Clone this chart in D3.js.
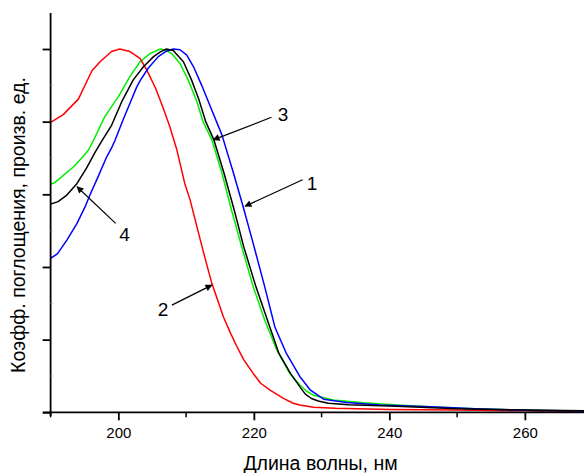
<!DOCTYPE html>
<html>
<head>
<meta charset="utf-8">
<script src="https://cdn.jsdelivr.net/npm/d3@7"></script>
<style>
  html, body { margin: 0; padding: 0; background: #fff; }
  svg { display: block; font-family: "Liberation Sans", Arial, sans-serif; }
</style>
</head>
<body>
<svg id="chart" width="584" height="473"></svg>
<script>
// wavelength (nm) / relative absorbance
const curve1 = [[190,0.424],[191,0.436],[192.4,0.474],[193.9,0.52],[195.1,0.566],[195.8,0.598],[197,0.648],[198.3,0.704],[199,0.728],[199.5,0.748],[200.7,0.805],[201.7,0.85],[202.7,0.895],[203.2,0.912],[204.4,0.947],[205.9,0.979],[207.1,0.994],[208.1,1.0],[209.1,0.998],[210.1,0.983],[211.1,0.951],[212.3,0.9],[213.5,0.845],[215.3,0.763],[217,0.658],[218.4,0.567],[219.9,0.465],[221.6,0.346],[223.1,0.235],[224.8,0.162],[226.8,0.098],[228.3,0.062],[230.3,0.036],[233.7,0.027],[238.6,0.02],[246,0.015],[253.4,0.009],[262,0.005],[272,0.003]];
const curve2 = [[190,0.80],[190.2,0.80],[191.9,0.82],[194.1,0.862],[196.1,0.94],[197.3,0.965],[199,0.993],[200.2,1.0],[201.7,0.993],[203.2,0.974],[204.2,0.942],[205.5,0.892],[206.6,0.838],[207.6,0.786],[208.6,0.725],[209.8,0.63],[210.6,0.584],[212.1,0.474],[213,0.41],[213.8,0.355],[215.5,0.263],[216.5,0.22],[217.5,0.181],[218.5,0.145],[219.9,0.107],[221,0.08],[222.4,0.061],[224.3,0.039],[225.8,0.025],[226.8,0.02],[228.8,0.014],[232,0.011],[240,0.008],[250,0.006],[260,0.004],[272,0.002]];
const curve3 = [[190,0.628],[190.6,0.632],[193.4,0.676],[194.8,0.704],[195.6,0.722],[196.1,0.74],[198,0.814],[200,0.869],[201.7,0.924],[203.2,0.965],[204.7,0.988],[206.2,1.0],[207.1,0.996],[208,0.985],[209.1,0.96],[210.3,0.915],[211.6,0.855],[212.5,0.8],[213.8,0.75],[215.3,0.658],[216.7,0.557],[218.2,0.456],[219.9,0.346],[221.6,0.254],[223.4,0.171],[225.3,0.107],[226.8,0.075],[227.8,0.058],[228.8,0.047],[231.7,0.034],[236.2,0.026],[241.1,0.02],[246,0.015],[253.4,0.009],[262,0.005],[272,0.003]];
const curve4 = [[190,0.573],[191.1,0.58],[192.4,0.598],[193.9,0.63],[195.3,0.672],[196.6,0.717],[197.5,0.745],[199,0.79],[200.5,0.855],[202.2,0.915],[203.7,0.951],[205.2,0.979],[206.2,0.992],[207.1,1.0],[208.1,0.996],[209.6,0.965],[210.8,0.915],[211.9,0.86],[212.9,0.8],[214.1,0.75],[215.6,0.658],[217.1,0.557],[218.5,0.456],[220.3,0.346],[222,0.254],[223.7,0.162],[225.4,0.107],[226.8,0.07],[227.6,0.05],[228.5,0.038],[229.5,0.031],[231,0.025],[234,0.021],[240,0.017],[250,0.01],[260,0.006],[272,0.004]];

const series = [
  { name: "1", color: "#0000ff", values: curve1 },
  { name: "2", color: "#ff0000", values: curve2 },
  { name: "3", color: "#00ee00", values: curve3 },
  { name: "4", color: "#000000", values: curve4 }
];
// draw order: green, red, blue, black on top
const drawOrder = ["3", "2", "1", "4"];

const xTicks = [200, 220, 240, 260];
const xMinor = [190, 210, 230, 250, 270];
const yTicks = [0, 0.2, 0.4, 0.6, 0.8, 1.0];
const yMinor = [0.1, 0.3, 0.5, 0.7, 0.9];

// label text, label position and arrow tip, in data units
const callouts = [
  { text: "1", at: [228.6, 0.63], from: [227.2, 0.64], tip: [218.7, 0.567] },
  { text: "2", at: [206.6, 0.285], from: [207.9, 0.295], tip: [213.8, 0.35] },
  { text: "3", at: [224.3, 0.82], from: [222.6, 0.812], tip: [214.0, 0.75] },
  { text: "4", at: [200.9, 0.49], from: [199.6, 0.52], tip: [193.9, 0.621] }
];

const svg = d3.select("#chart");
const W = 584, H = 473;

const x = d3.scaleLinear().domain([190, 270]).range([50.6, 592.6]);
const y = d3.scaleLinear().domain([0, 1.1]).range([412.3, 412.3 - 1.1 * 363.3]);

svg.append("defs").append("marker")
    .attr("id", "arrow")
    .attr("viewBox", "0 0 10 10")
    .attr("refX", 9).attr("refY", 5)
    .attr("markerWidth", 9).attr("markerHeight", 7)
    .attr("markerUnits", "userSpaceOnUse")
    .attr("orient", "auto")
  .append("path")
    .attr("d", "M0,0 L10,5 L0,10 z")
    .attr("fill", "#000");

svg.append("clipPath").attr("id", "plot")
  .append("rect").attr("x", 51).attr("y", 0).attr("width", W - 51).attr("height", 413);

const line = d3.line()
    .x(d => x(d[0]))
    .y(d => y(d[1]));

const lines = svg.append("g").attr("clip-path", "url(#plot)");
drawOrder.forEach(n => {
  const s = series.find(d => d.name === n);
  lines.append("path")
      .datum(s.values)
      .attr("fill", "none")
      .attr("stroke", s.color)
      .attr("stroke-width", 1.5)
      .attr("stroke-linejoin", "round")
      .attr("d", line);
});

// x axis
const xAxis = svg.append("g").attr("transform", `translate(0,${y(0)})`);
xAxis.call(d3.axisBottom(x).tickValues(xTicks).tickSize(8).tickSizeOuter(0).tickPadding(7).tickFormat(d3.format("d")));
xAxis.append("g").selectAll("line").data(xMinor).enter().append("line")
    .attr("x1", d => x(d)).attr("x2", d => x(d))
    .attr("y1", 0).attr("y2", 5)
    .attr("stroke", "#000").attr("stroke-width", 1.5);
xAxis.select(".domain").attr("d", `M43,0H${W}`);

// y axis
const yAxis = svg.append("g").attr("transform", `translate(${x(190)},0)`);
yAxis.call(d3.axisLeft(y).tickValues(yTicks).tickSize(8).tickSizeOuter(0).tickFormat(""));
yAxis.select(".domain").attr("d", `M0,13V416`);
yAxis.append("g").selectAll("line").data(yMinor).enter().append("line")
    .attr("x1", 0).attr("x2", 2)
    .attr("y1", d => y(d)).attr("y2", d => y(d))
    .attr("stroke", "#999").attr("stroke-width", 1);

svg.selectAll(".domain, .tick line").attr("stroke", "#000").attr("stroke-width", 1.8);
svg.selectAll(".tick text").attr("font-size", 15).attr("fill", "#000")
    .attr("font-family", "'Liberation Sans', Arial, sans-serif");

// axis titles
svg.append("text")
    .attr("x", 320.5).attr("y", 470)
    .attr("text-anchor", "middle")
    .attr("font-size", 19.5)
    .text("Длина волны, нм");

svg.append("text")
    .attr("transform", "translate(24.5,225) rotate(-90)")
    .attr("text-anchor", "middle")
    .attr("font-size", 19.5)
    .text("Коэфф. поглощения, произв. ед.");

// callouts
const notes = svg.append("g");
callouts.forEach(c => {
  notes.append("line")
      .attr("x1", x(c.from[0])).attr("y1", y(c.from[1]))
      .attr("x2", x(c.tip[0])).attr("y2", y(c.tip[1]))
      .attr("stroke", "#000").attr("stroke-width", 1.2)
      .attr("marker-end", "url(#arrow)");
  notes.append("text")
      .attr("x", x(c.at[0])).attr("y", y(c.at[1]))
      .attr("text-anchor", "middle")
      .attr("dy", "0.36em")
      .attr("font-size", 19)
      .text(c.text);
});
</script>
</body>
</html>
